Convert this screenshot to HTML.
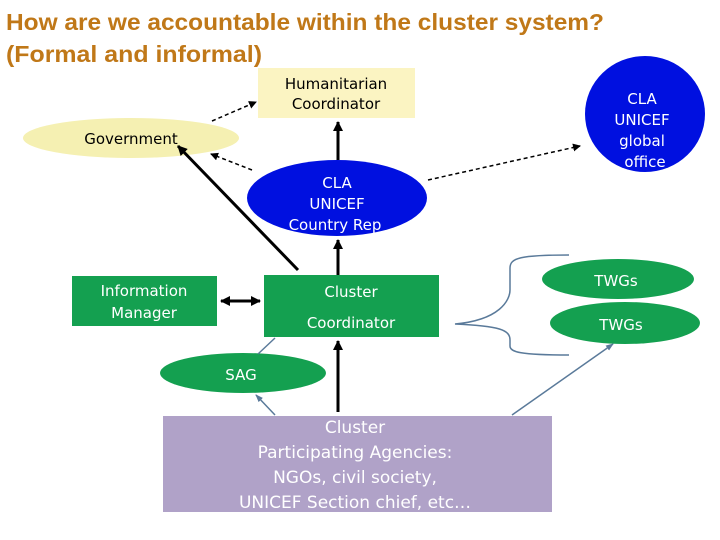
<!DOCTYPE html>
<html><head><meta charset="utf-8"><style>
html,body{margin:0;padding:0;background:#fff;width:720px;height:540px;overflow:hidden}
svg{display:block}
text{font-family:"DejaVu Sans","Liberation Sans",sans-serif}
</style></head><body>
<svg width="720" height="540" viewBox="0 0 720 540" xmlns="http://www.w3.org/2000/svg">
<defs>
<marker id="a" markerWidth="8" markerHeight="8" refX="7" refY="4" orient="auto" markerUnits="userSpaceOnUse"><path d="M0,0 L8,4 L0,8 z" fill="#000"/></marker>
<marker id="b" markerWidth="10" markerHeight="10" refX="9" refY="5" orient="auto" markerUnits="userSpaceOnUse"><path d="M0,0 L10,5 L0,10 z" fill="#000"/></marker>
<marker id="bs" markerWidth="10" markerHeight="10" refX="1" refY="5" orient="auto" markerUnits="userSpaceOnUse"><path d="M10,0 L0,5 L10,10 z" fill="#000"/></marker>
<marker id="g" markerWidth="8" markerHeight="8" refX="7" refY="4" orient="auto" markerUnits="userSpaceOnUse"><path d="M0,1 L8,4 L0,7 z" fill="#5a7a9a"/></marker>
</defs>
<text x="6" y="30" font-size="23" font-weight="bold" fill="#c07818" textLength="598" lengthAdjust="spacingAndGlyphs" style="font-family:'Liberation Sans',sans-serif">How are we accountable within the cluster system?</text>
<text x="6" y="62" font-size="23" font-weight="bold" fill="#c07818" textLength="256" lengthAdjust="spacingAndGlyphs" style="font-family:'Liberation Sans',sans-serif">(Formal and informal)</text>

<rect x="258" y="68" width="157" height="50" fill="#fbf4c2"/>
<text x="336" y="89" font-size="15" text-anchor="middle" fill="#000">Humanitarian</text>
<text x="336" y="109" font-size="15" text-anchor="middle" fill="#000">Coordinator</text>

<ellipse cx="131" cy="138" rx="108" ry="20" fill="#f5f0b2"/>
<text x="131" y="144" font-size="15" text-anchor="middle" fill="#000">Government</text>

<ellipse cx="645" cy="114" rx="60" ry="58" fill="#0010e0"/>
<text x="642" y="104" font-size="15" text-anchor="middle" fill="#fff">CLA</text>
<text x="642" y="125" font-size="15" text-anchor="middle" fill="#fff">UNICEF</text>
<text x="642" y="146" font-size="15" text-anchor="middle" fill="#fff">global</text>
<text x="645" y="167" font-size="15" text-anchor="middle" fill="#fff">office</text>

<ellipse cx="337" cy="198" rx="90" ry="38" fill="#0010e0"/>
<text x="337" y="188" font-size="15" text-anchor="middle" fill="#fff">CLA</text>
<text x="337" y="209" font-size="15" text-anchor="middle" fill="#fff">UNICEF</text>
<text x="335" y="230" font-size="15" text-anchor="middle" fill="#fff">Country Rep</text>

<rect x="72" y="276" width="145" height="50" fill="#14a050"/>
<text x="144" y="296" font-size="15" text-anchor="middle" fill="#fff">Information</text>
<text x="144" y="318" font-size="15" text-anchor="middle" fill="#fff">Manager</text>

<rect x="264" y="275" width="175" height="62" fill="#14a050"/>
<text x="351" y="297" font-size="15" text-anchor="middle" fill="#fff">Cluster</text>
<text x="351" y="328" font-size="15" text-anchor="middle" fill="#fff">Coordinator</text>

<ellipse cx="243" cy="373" rx="83" ry="20" fill="#14a050"/>
<text x="241" y="380" font-size="15" text-anchor="middle" fill="#fff">SAG</text>

<ellipse cx="618" cy="279" rx="76" ry="20" fill="#14a050"/>
<text x="616" y="286" font-size="15" text-anchor="middle" fill="#fff">TWGs</text>
<ellipse cx="625" cy="323" rx="75" ry="21" fill="#14a050"/>
<text x="621" y="330" font-size="15" text-anchor="middle" fill="#fff">TWGs</text>

<rect x="163" y="416" width="389" height="96" fill="#b0a2c8"/>
<g font-size="17" text-anchor="middle" fill="#fff">
<text x="355" y="433">Cluster</text>
<text x="355" y="458">Participating Agencies:</text>
<text x="355" y="483">NGOs, civil society,</text>
<text x="355" y="508">UNICEF Section chief, etc…</text>
</g>

<g stroke="#000" stroke-width="1.5" stroke-dasharray="4,3" fill="none">
<line x1="212" y1="121" x2="256" y2="102" marker-end="url(#a)"/>
<line x1="252" y1="170" x2="211" y2="154" marker-end="url(#a)"/>
<line x1="428" y1="180" x2="580" y2="146" marker-end="url(#a)"/>
</g>
<g stroke="#000" stroke-width="3" fill="none">
<line x1="338" y1="160" x2="338" y2="122" marker-end="url(#b)"/>
<line x1="338" y1="275" x2="338" y2="240" marker-end="url(#b)"/>
<line x1="338" y1="412" x2="338" y2="341" marker-end="url(#b)"/>
<line x1="298" y1="270" x2="178" y2="146" marker-end="url(#b)"/>
<line x1="221" y1="301" x2="260" y2="301" marker-start="url(#bs)" marker-end="url(#b)"/>
</g>
<g stroke="#5a7a9a" stroke-width="1.5" fill="none">
<line x1="275" y1="415" x2="256" y2="395" marker-end="url(#g)"/>
<line x1="258" y1="354" x2="275" y2="338"/>
<line x1="512" y1="415" x2="613" y2="344" marker-end="url(#g)"/>
<path d="M569,255 C520,255 510,258 510,268 L510,290 C510,300 500,320 455,324 C500,326 510,330 510,340 L510,346 C510,352 520,355 569,355"/>
</g>
</svg>
</body></html>
